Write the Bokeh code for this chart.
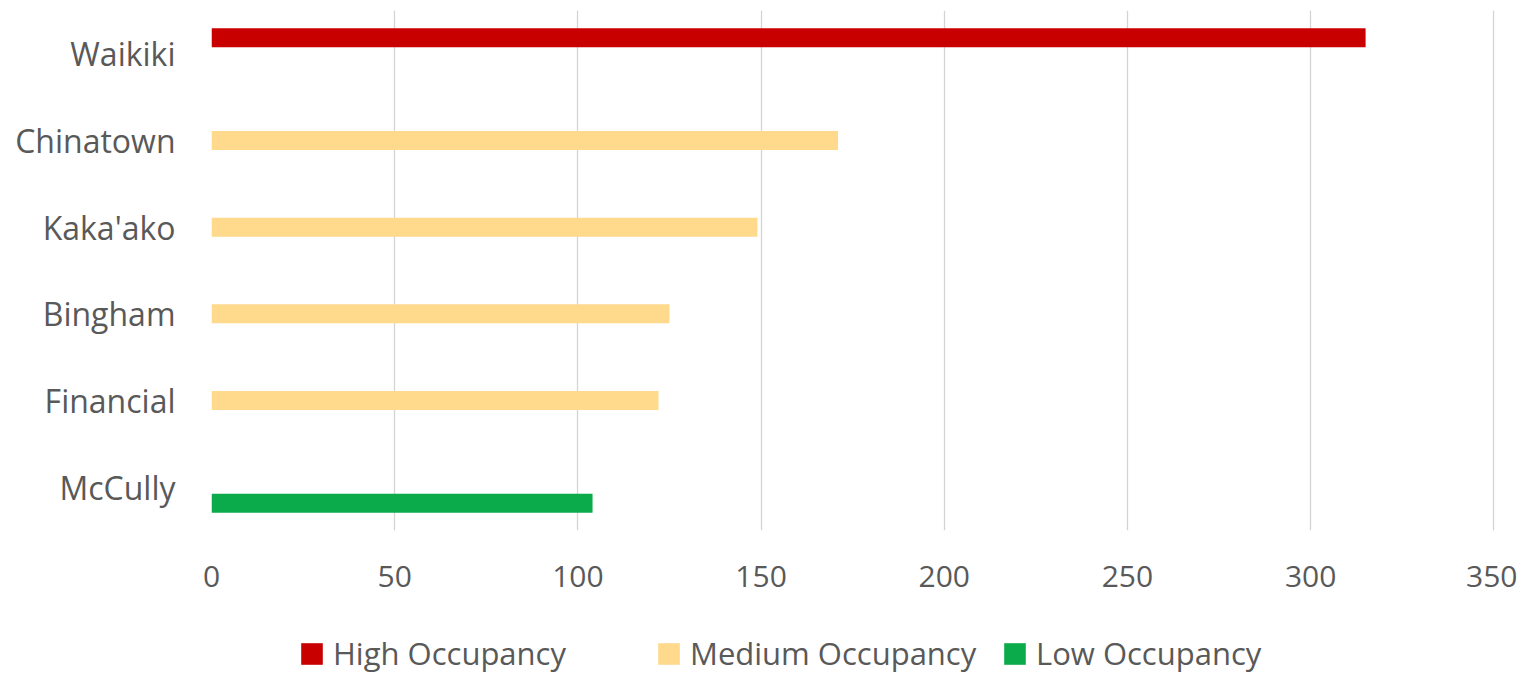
from bokeh.plotting import figure
from bokeh.layouts import column
from bokeh.models import FactorRange, Legend, LegendItem, Range1d, FixedTicker, ColumnDataSource
from bokeh.transform import dodge
from bokeh.embed import file_html
from bokeh.resources import INLINE

categories = ["Waikiki", "Chinatown", "Kaka'ako", "Bingham", "Financial", "McCully"]
high = [315, 0, 0, 0, 0, 0]
medium = [0, 171, 149, 125, 122, 0]
low = [0, 0, 0, 0, 0, 104]
series_names = ["High Occupancy", "Medium Occupancy", "Low Occupancy"]
series_colors = ["#C80000", "#FFD98C", "#0BAA4B"]
x_ticks = [0, 50, 100, 150, 200, 250, 300, 350]

FONT = "Open Sans"
TXT = "#595959"

source = ColumnDataSource(dict(cat=categories, high=high, medium=medium, low=low))

p = figure(width=1517, height=601,
           y_range=FactorRange(factors=categories[::-1], range_padding=0),
           x_range=Range1d(0, 351),
           output_backend="svg", toolbar_location=None,
           min_border_left=211, min_border_right=20, min_border_top=10, min_border_bottom=71)

offsets = [0.185, 0.0, -0.185]
cols = ["high", "medium", "low"]
for col, off, color in zip(cols, offsets, series_colors):
    p.hbar(y=dodge("cat", off, range=p.y_range), right=col, left=0, height=0.22,
           source=source, fill_color=color, line_color=None)

p.outline_line_color = None
p.ygrid.grid_line_color = None
p.xgrid.grid_line_color = "#D4D4D4"
p.xgrid.grid_line_width = 1.3
p.xaxis.ticker = FixedTicker(ticks=x_ticks)

for ax in (p.xaxis[0], p.yaxis[0]):
    ax.axis_line_color = None
    ax.major_tick_line_color = None
    ax.minor_tick_line_color = None
    ax.major_label_text_font = FONT
    ax.major_label_text_color = TXT

p.xaxis.major_label_text_font_size = "30px"
p.yaxis.major_label_text_font_size = "32px"
p.xaxis.major_label_standoff = 29
p.yaxis.major_label_standoff = 30

# legend strip below the chart (its frame is aligned with the chart frame)
lg = figure(width=1517, height=73, x_range=Range1d(0, 1), y_range=Range1d(0, 1),
            output_backend="svg", toolbar_location=None,
            x_axis_location=None, y_axis_location=None,
            min_border_left=211, min_border_right=20, min_border_top=0, min_border_bottom=0)
lg.grid.visible = False
lg.outline_line_color = None
legend_x = [87, 444, 790]
for name, color, lx in zip(series_names, series_colors, legend_x):
    # zero-size bar: only its style feeds the legend swatch
    r = lg.hbar(y=[-5], left=[-5], right=[-5], height=0, fill_color=color, line_color=None)
    legend = Legend(items=[LegendItem(label=name, renderers=[r])], orientation="horizontal",
                    location=(lx, 0), glyph_width=27, glyph_height=27, label_standoff=8,
                    label_text_font=FONT, label_text_font_size="31px", label_text_color=TXT,
                    border_line_color=None, background_fill_alpha=0, margin=0, padding=0)
    lg.add_layout(legend, "center")

layout = column(p, lg, spacing=0)
open("out.html", "w").write(file_html(layout, INLINE))
